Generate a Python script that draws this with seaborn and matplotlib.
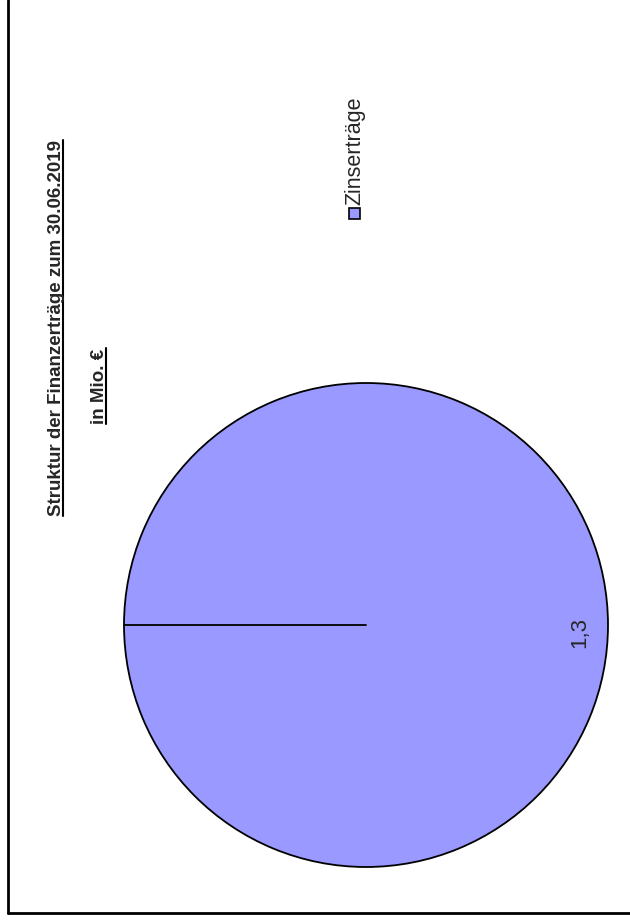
import seaborn as sns
import matplotlib.pyplot as plt
from matplotlib.patches import Rectangle

# data
categories = ["Zinserträge"]
values = [1.3]
value_labels = ["1,3"]
title_lines = ["Struktur der Finanzerträge zum 30.06.2019", "in Mio. €"]

sns.set_theme(style="white")
plt.rcParams['font.family'] = ['Liberation Sans', 'DejaVu Sans']

fig = plt.figure(figsize=(6.3, 9.22), dpi=100)
ax = fig.add_axes([0, 0, 1, 1])

pie_color = "#9999ff"

# the page is turned by 90 degrees, so everything is drawn rotated
wedges, texts = ax.pie(values, labels=value_labels, colors=[pie_color],
                       startangle=180, center=(366, 625), radius=242,
                       labeldistance=0.885, frame=True,
                       wedgeprops=dict(edgecolor='black', linewidth=1.3),
                       textprops=dict(fontsize=16, rotation=90))
for t in texts:
    t.set_ha('center')
    t.set_va('center')
    x, y = t.get_position()
    t.set_position((x, y + 7))
ax.set_xlim(0, 630)
ax.set_ylim(922, 0)
ax.set_aspect('equal')
ax.axis('off')

# a single full wedge has no radial edge, draw it at the start angle
w = wedges[0]
cx, cy = w.center
ax.plot([cx, cx - w.r], [cy, cy], color='black', linewidth=1.3)

# legend (rotated)
ax.add_patch(Rectangle((349, 208), 11, 11, facecolor=pie_color, edgecolor='black', linewidth=1.2))
ax.text(355, 205, categories[0], rotation=90, ha='center', va='bottom', fontsize=15.5)

# title with underline
t1 = ax.text(57, 328, title_lines[0], rotation=90, ha='center', va='center',
             fontsize=13.5, fontweight='bold')
t2 = ax.text(100, 386, title_lines[1], rotation=90, ha='center', va='center',
             fontsize=13.5, fontweight='bold')
fig.canvas.draw()
inv = ax.transData.inverted()
for t in (t1, t2):
    bb = t.get_window_extent()
    (x0, y0), (x1, y1) = inv.transform([(bb.x0, bb.y0), (bb.x1, bb.y1)])
    ax.plot([x1 - 3, x1 - 3], [y0, y1], color='black', linewidth=1.5)

# page frame
ax.plot([8, 8], [0, 913], color='black', linewidth=2)
ax.plot([8, 630], [913, 913], color='black', linewidth=2)

plt.savefig("out.png", dpi=100)
